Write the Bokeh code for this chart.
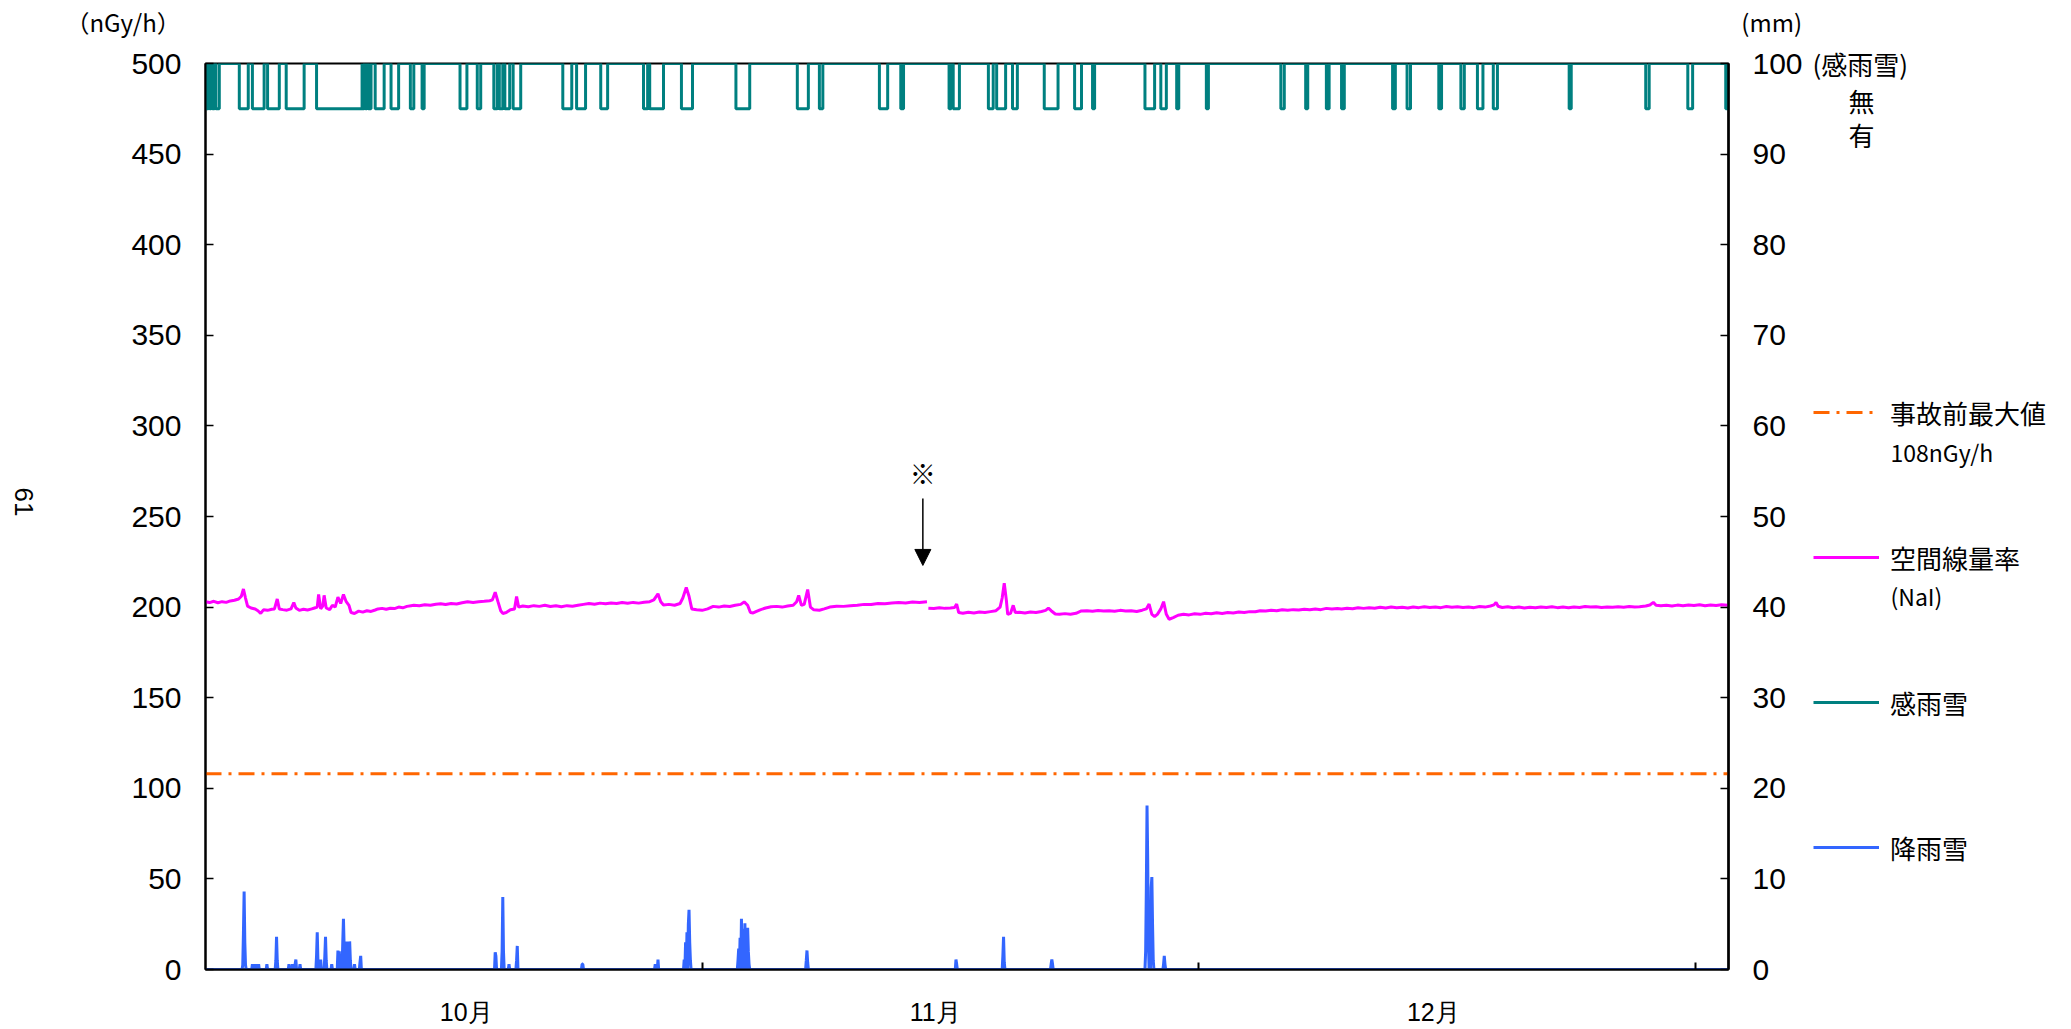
import numpy as np
from bokeh.plotting import figure
from bokeh.layouts import row, column
from bokeh.models import (Range1d, LinearAxis, FixedTicker, Label, Legend, LegendItem,
                          Arrow, NormalHead)
from bokeh.embed import file_html
from bokeh.resources import INLINE

# ---------------- data (x in hours from 1 Oct 00:00, 92 days) ----------------
HOURS_TOTAL = 2208
month_labels = ["10月", "11月", "12月"]
month_label_hours = [378, 1058, 1780]
month_tick_hours = [720, 1440, 2160]

pre_accident_max = 108  # nGy/h

# spatial dose rate (NaI), nGy/h
nai_hours = [0, 6, 12, 18, 24, 30, 36, 42, 48, 52, 55, 58, 61, 66, 72, 76, 80, 84, 90, 96, 100, 104, 107,
             112, 118, 124, 128, 131, 136, 142, 148, 154, 158, 162, 164, 167, 170, 172, 175, 180, 184, 188,
             192, 196, 200, 204, 208, 211, 216, 222, 228, 234, 240, 246, 250, 256, 262, 268, 274, 280, 286,
             292, 298, 302, 310, 318, 326, 334, 341, 348, 356, 364, 372, 380, 388, 396, 404, 412, 416, 420,
             424, 428, 431, 436, 442, 448, 451, 454, 460, 468, 476, 484, 492, 500, 508, 516, 524, 532, 540,
             548, 556, 564, 572, 580, 588, 596, 604, 612, 620, 628, 636, 644, 650, 656, 660, 664, 672, 680,
             688, 692, 697, 701, 705, 712, 720, 728, 736, 744, 752, 760, 768, 776, 781, 786, 790, 794, 798,
             804, 812, 820, 828, 836, 844, 852, 857, 860, 864, 868, 873, 877, 882, 890, 897, 905, 915, 925,
             935, 945, 955, 965, 975, 985, 995, 1005, 1015, 1025, 1035, 1046, 1047,
             1048, 1056, 1064, 1072, 1080, 1086, 1089, 1092, 1098, 1106, 1114, 1122, 1130, 1138, 1146, 1152,
             1155, 1158, 1161, 1163, 1167, 1171, 1174, 1180, 1188, 1196, 1204, 1212, 1218, 1222, 1226, 1232,
             1238, 1246, 1254, 1262, 1269, 1278, 1286, 1294, 1302, 1310, 1318, 1326, 1334, 1342, 1350, 1358,
             1364, 1368, 1372, 1376, 1380, 1385, 1389, 1393, 1397, 1403, 1410, 1418, 1426, 1434, 1442, 1450,
             1458, 1466, 1474, 1482, 1490, 1498, 1506, 1514, 1522, 1529, 1537, 1545, 1553, 1561, 1569, 1577,
             1585, 1593, 1601, 1609, 1617, 1625, 1633, 1641, 1647, 1655, 1663, 1671, 1679, 1687, 1695, 1703,
             1711, 1719, 1727, 1735, 1743, 1751, 1759, 1767, 1775, 1783, 1791, 1799, 1807, 1815, 1823, 1831,
             1839, 1847, 1855, 1863, 1868, 1871, 1874, 1880, 1888, 1896, 1904, 1912, 1920, 1928, 1936, 1944,
             1952, 1960, 1968, 1976, 1984, 1992, 2000, 2008, 2016, 2024, 2032, 2040, 2048, 2056, 2064, 2072,
             2079, 2088, 2094, 2099, 2103, 2110, 2118, 2126, 2134, 2142, 2150, 2158, 2166, 2174, 2182, 2190,
             2198, 2207]
nai_values = [203, 202.5, 203.2, 202.4, 203, 202.6, 203.4, 203.8, 204.5, 206, 210, 205, 200.5, 199.5, 199,
              198, 196.5, 198.5, 198.2, 198.8, 199, 204.5, 199, 198.6, 198.3, 199, 202.5, 199.5, 198.2, 198.8,
              198.4, 199, 199.5, 200, 207, 199, 200.5, 206.5, 199.5, 198.6, 201, 200, 205.5, 202, 207, 203,
              201, 197, 196.5, 197.8, 197.2, 198, 197.6, 198.4, 199, 199.3, 198.8, 199.4, 199.2, 200, 199.6,
              200.4, 200.8, 201, 200.7, 201.3, 201, 201.6, 201.8, 201.4, 202, 201.7, 202.4, 203, 202.6, 203,
              203.2, 203.5, 204, 208.2, 203, 198, 196.5, 197, 198.5, 199, 205.8, 200, 200.6, 200.2, 200.8,
              200.4, 201, 200.3, 200.7, 200.2, 200.8, 200.5, 201, 201.5, 202, 201.6, 202.2, 201.8, 202.3, 202,
              202.5, 202.1, 202.6, 202.2, 202.7, 203, 204, 207.3, 203, 201.2, 201.5, 201, 202, 205, 210.8, 206,
              199, 198.5, 198.2, 199, 200.4, 200, 200.6, 200.3, 201, 201.5, 202.9, 201, 197, 196.8, 197.5,
              198.5, 199.5, 200.2, 200.4, 200, 200.6, 201, 203, 206.4, 201, 201.5, 209.7, 200, 198.5, 198.3,
              199, 200, 200.5, 200.4, 200.8, 201, 201.5, 201.4, 202, 201.8, 202.2, 202.5, 202.3, 202.8, 202.6,
              203, np.nan,
              199.4, 199.2, 199.6, 199.3, 199.5, 199.8, 201.7, 197, 196.6, 197.2, 196.8, 197.3, 197, 197.5,
              198, 200, 205, 213.2, 204, 196, 196.5, 201, 197, 197.2, 196.8, 197.3, 197, 197.6, 198.2, 199.4,
              198, 196.2, 196, 196.4, 196.1, 196.6, 197.8, 198, 197.7, 198.1, 197.8, 198, 197.7, 198.2, 197.9,
              198, 197.6, 198.3, 199, 201.7, 196, 194.8, 196, 199, 203, 196, 193.3, 194.2, 195.5, 196, 195.7,
              196.3, 196, 196.6, 196.3, 196.9, 196.5, 197, 196.8, 197.3, 197, 197.5, 197.4, 198, 197.8, 198.2,
              198, 198.5, 198.2, 198.6, 198.4, 198.8, 198.5, 198.9, 198.6, 199.3, 198.9, 199.2, 199, 199.4,
              199.1, 199.6, 199.3, 199.7, 199.4, 199.9, 199.5, 200, 199.6, 199.9, 199.5, 200.1, 199.7, 200.2,
              199.8, 200.1, 199.7, 200.3, 199.9, 200.2, 199.8, 200.1, 199.7, 200.3, 200, 200.6, 201.2, 202.6,
              200.5, 199.8, 200.2, 199.6, 200, 199.5, 199.9, 199.6, 200.1, 199.8, 200.2, 199.7, 200, 199.6,
              200.1, 199.8, 200.3, 200, 200.2, 199.8, 200.1, 199.9, 200.2, 199.9, 200.3, 200, 200.2, 200.6,
              201.2, 202.6, 201, 200.7, 201, 200.6, 201.1, 200.8, 201.2, 200.9, 201.3, 200.8, 201.2, 200.9,
              201.3, 201]

# rain/snow sensor: periods detected (hour start, hour end)
sensor_on_start = [1, 6, 10, 15, 49, 68, 90, 117, 161, 227, 232, 236, 246, 269, 297, 314, 369, 394, 418, 426,
                   434, 446, 518, 538, 573, 635, 644, 690, 769, 858, 890, 977, 1008, 1078, 1084, 1135, 1147,
                   1170, 1216, 1260, 1286, 1362, 1385, 1408, 1451, 1559, 1595, 1625, 1647, 1721, 1742, 1788,
                   1820, 1844, 1867, 1977, 2088, 2149, 2204]
sensor_on_end = [4, 8, 13, 20, 62, 85, 107, 143, 227, 230, 234, 240, 259, 280, 302, 317, 379, 399, 423, 431,
                 441, 457, 531, 551, 583, 641, 664, 706, 789, 874, 895, 989, 1012, 1081, 1093, 1142, 1160,
                 1177, 1236, 1270, 1289, 1376, 1393, 1411, 1454, 1564, 1598, 1629, 1651, 1725, 1747, 1792,
                 1825, 1852, 1873, 1980, 2093, 2156, 2208]
SENSOR_OFF = 100  # 無
SENSOR_ON = 95    # 有

# precipitation (mm/h): hour -> amount
rain_hours = [54, 55, 56, 57, 58, 68, 70, 74, 77, 89, 102, 103, 104, 121, 126, 130, 131, 137, 161, 162, 163,
              167, 173, 174, 175, 183, 192, 194, 199, 200, 201, 203, 205, 207, 209, 210, 216, 224, 225,
              420, 421, 430, 431, 432, 440, 451, 452, 546, 547, 652, 654, 656, 694, 696, 698, 700, 701, 702,
              703, 772, 773, 775, 777, 779, 782, 784, 786, 787, 788, 871, 872, 873, 1088, 1089, 1156, 1157,
              1158, 1226, 1227, 1228, 1363, 1364, 1365, 1366, 1367, 1369, 1371, 1372, 1373, 1374, 1389, 1390,
              1391]
rain_mm = [0.5, 4, 8.6, 3, 0.5, 0.6, 0.6, 0.6, 0.6, 0.6, 1, 3.6, 1, 0.6, 0.6, 0.6, 1.1, 0.6, 1.5, 4.1, 1,
           1.1, 1.5, 3.6, 1, 0.6, 2.1, 2, 3, 5.6, 2.5, 3, 3.1, 2.5, 3.1, 1, 0.6, 0.8, 1.5,
           1.9, 1.5, 2, 8.0, 2, 0.6, 1, 2.6, 0.6, 0.6, 0.6, 0.6, 1.1, 1.1, 3, 4.1, 5, 6.6, 3,
           1, 1, 2.3, 3.5, 5.6, 4.5, 5.1, 4, 4.6, 2, 0.6, 1, 2.1, 0.8, 1.1, 0.6, 1.5, 3.6,
           0.8, 0.6, 1.1, 0.6, 2, 9, 18.1, 12, 3, 4, 9, 10.2, 5, 1, 0.6, 1.5,
           0.6]

# ---------------- derived series ----------------
rain_x = np.arange(HOURS_TOTAL + 1)
rain_y = np.zeros(HOURS_TOTAL + 1)
for h, v in zip(rain_hours, rain_mm):
    rain_y[h] = v

sens_x, sens_y = [0], [SENSOR_OFF]
for s, e in zip(sensor_on_start, sensor_on_end):
    sens_x += [s, s, e, e]
    sens_y += [SENSOR_OFF, SENSOR_ON, SENSOR_ON, SENSOR_OFF]
sens_x.append(HOURS_TOTAL)
sens_y.append(SENSOR_OFF)

max_x = [0, HOURS_TOTAL]
max_y = [pre_accident_max, pre_accident_max]

# ---------------- styles / layout constants ----------------
NUM_FONT = "'Liberation Sans Narrow', 'Liberation Sans'"
JP_FONT = "Noto Sans CJK JP"
C_NAI, C_MAX, C_SENS, C_RAIN = "#FF00FF", "#FF6600", "#008080", "#3366FF"
MAX_DASH = "16 7 3 7"
LW = 3

LEFT, FRAME_W, RIGHT = 205, 1523, 75
TOP, FRAME_H, BOTTOM = 62, 906, 59
SIDE_W = 266
Y_MAX = 500
IDSP = "\u3000"  # ideographic space used to pad the unit captions

# ---------------- main chart ----------------
p = figure(frame_width=FRAME_W, frame_height=FRAME_H, x_range=Range1d(0, HOURS_TOTAL),
           y_range=Range1d(0, Y_MAX), output_backend="svg", toolbar_location=None,
           min_border_left=LEFT, min_border_right=RIGHT, min_border_top=TOP, min_border_bottom=BOTTOM)
p.xgrid.visible = False
p.ygrid.visible = False
p.outline_line_color = "black"
p.outline_line_width = 2
p.extra_y_ranges = {"mm": Range1d(0, 100)}

p.line(nai_hours, nai_values, line_color=C_NAI, line_width=LW)
p.line(max_x, max_y, line_color=C_MAX, line_width=LW, line_dash=MAX_DASH)
p.line(sens_x, sens_y, line_color=C_SENS, line_width=LW, y_range_name="mm")
p.line(rain_x, rain_y, line_color=C_RAIN, line_width=LW, y_range_name="mm")

ly = p.yaxis[0]
ly.ticker = FixedTicker(ticks=list(range(0, Y_MAX + 1, 50)))
ly.major_tick_in = 8
ly.major_tick_out = 0
ly.minor_tick_in = 0
ly.minor_tick_out = 0
ly.axis_line_width = 2
ly.major_tick_line_width = 1.5
ly.major_label_standoff = 24
ly.major_label_text_font = NUM_FONT
ly.major_label_text_font_size = "30px"
ly.major_label_text_color = "black"
ly.axis_label = "61"
ly.axis_label_text_font = "Liberation Sans"
ly.axis_label_text_font_size = "26px"
ly.axis_label_text_font_style = "normal"
ly.axis_label_text_color = "black"
ly.axis_label_standoff = 104
try:
    ly.axis_label_orientation = -np.pi / 2
except Exception:
    pass

ry = LinearAxis(y_range_name="mm", ticker=FixedTicker(ticks=list(range(0, 101, 10))))
ry.major_tick_in = 8
ry.major_tick_out = 0
ry.minor_tick_in = 0
ry.minor_tick_out = 0
ry.axis_line_width = 2.5
ry.major_tick_line_width = 1.5
ry.major_label_standoff = 24
ry.major_label_text_font = NUM_FONT
ry.major_label_text_font_size = "30px"
ry.major_label_text_color = "black"
p.add_layout(ry, "right")

xa = p.xaxis[0]
xa.ticker = FixedTicker(ticks=month_label_hours, minor_ticks=month_tick_hours)
xa.major_label_overrides = {h: m for h, m in zip(month_label_hours, month_labels)}
xa.major_tick_in = 0
xa.major_tick_out = 0
xa.minor_tick_in = 7
xa.minor_tick_out = 0
xa.minor_tick_line_width = 2
xa.axis_line_width = 2
xa.major_label_standoff = 28
xa.major_label_text_font = "Liberation Sans"
xa.major_label_text_font_size = "25px"
xa.major_label_text_color = "black"

# unit captions of the two value axes, carried by an unlined axis above the plot area
unit_hours = [11, 2201]
unit_texts = ["（nGy/h）" + IDSP * 8, IDSP * 4 + "(mm)"]
ua = LinearAxis(ticker=FixedTicker(ticks=unit_hours),
                major_label_overrides={h: t for h, t in zip(unit_hours, unit_texts)})
ua.axis_line_color = None
ua.major_tick_line_color = None
ua.minor_tick_line_color = None
ua.major_tick_in = 0
ua.major_tick_out = 0
ua.minor_tick_in = 0
ua.minor_tick_out = 0
ua.major_label_standoff = 25
ua.major_label_text_font = JP_FONT
ua.major_label_text_font_size = "24px"
ua.major_label_text_color = "black"
p.add_layout(ua, "above")

p.add_layout(Label(x=1040, y=274.4, text="※", text_font=JP_FONT, text_font_size="26px",
                   text_align="center", text_baseline="middle", text_color="black"))
p.add_layout(Arrow(end=NormalHead(size=16, fill_color="black", line_color="black"),
                   x_start=1040, y_start=260, x_end=1040, y_end=223,
                   line_color="black", line_width=1.5))

# ---------------- right strip: legend and notes ----------------
side_y_max = Y_MAX * (TOP + FRAME_H) / FRAME_H
side = figure(frame_width=SIDE_W, frame_height=TOP + FRAME_H, x_range=Range1d(0, SIDE_W),
              y_range=Range1d(0, side_y_max), x_axis_type=None, y_axis_type=None,
              output_backend="svg", toolbar_location=None,
              min_border_left=0, min_border_right=0, min_border_top=0, min_border_bottom=BOTTOM)
side.outline_line_color = None
side.grid.visible = False
# hidden copies of the series: only their styles are used by the legend
g_max = side.line(max_x, max_y, line_color=C_MAX, line_width=LW, line_dash=MAX_DASH, visible=False)
g_nai = side.line(nai_hours, nai_values, line_color=C_NAI, line_width=LW, visible=False)
g_sens = side.line(sens_x, sens_y, line_color=C_SENS, line_width=LW, visible=False)
g_rain = side.line(rain_x, rain_y, line_color=C_RAIN, line_width=LW, visible=False)
legend = Legend(items=[LegendItem(label="事故前最大値", renderers=[g_max]),
                       LegendItem(label="空間線量率", renderers=[g_nai]),
                       LegendItem(label="感雨雪", renderers=[g_sens]),
                       LegendItem(label="降雨雪", renderers=[g_rain])],
                location=(8, 101), orientation="vertical",
                glyph_width=66, glyph_height=40, label_height=40, spacing=105,
                label_standoff=11, padding=0, margin=0,
                border_line_color=None, background_fill_alpha=0,
                label_text_font=JP_FONT, label_text_font_size="26px", label_text_color="black")
side.add_layout(legend)

for txt, x, y, size, align in [("(感雨雪)", 7, 499.5, "26px", "left"),
                               ("無", 56, 479.0, "26px", "center"),
                               ("有", 56, 460.0, "26px", "center"),
                               ("108nGy/h", 85, 285.3, "23px", "left"),
                               ("(NaI)", 85, 205.8, "23px", "left")]:
    side.add_layout(Label(x=x, y=y, text=txt, text_font=JP_FONT, text_font_size=size,
                          text_align=align, text_baseline="middle", text_color="black"))

layout = row(column(p, spacing=0), side, spacing=0)
open("out.html", "w").write(file_html(layout, INLINE))
